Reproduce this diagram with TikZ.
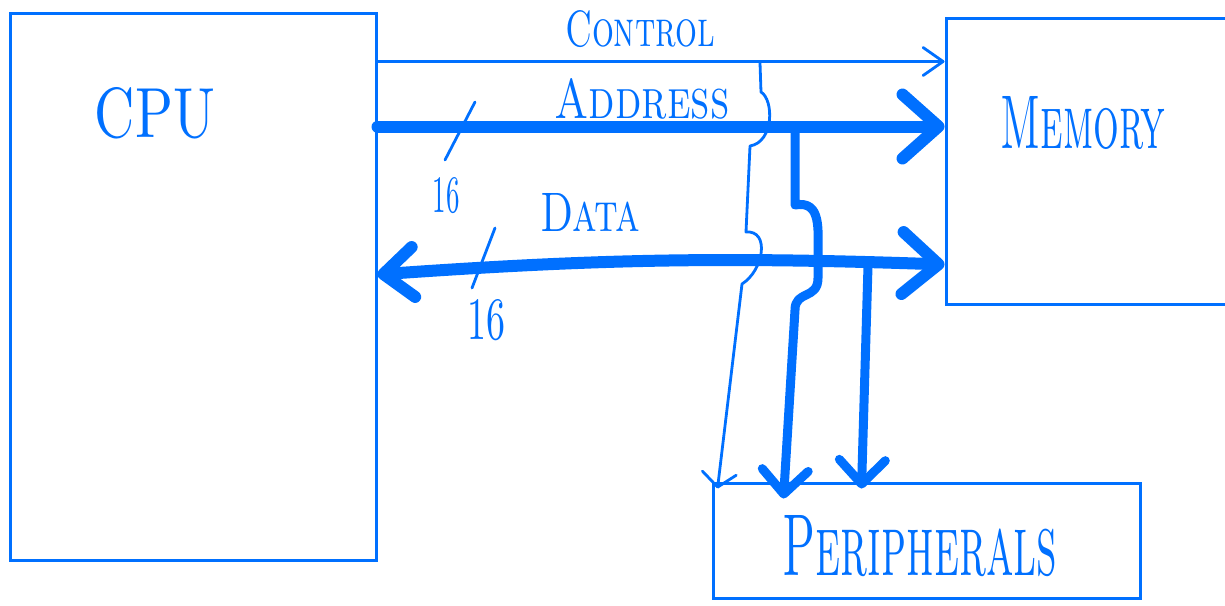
\documentclass[tikz,border=0pt]{standalone}
\usepackage{graphicx}
\usetikzlibrary{arrows.meta}
\definecolor{pen}{RGB}{0,112,255}
\tikzset{
  box/.style={draw=pen, line width=3pt, inner sep=0pt, rectangle},
  thinbus/.style={draw=pen, line width=2.8pt, line cap=round, line join=round},
  thickbus/.style={draw=pen, line width=12pt, line cap=round, line join=round},
  midbus/.style={draw=pen, line width=9pt, line cap=round, line join=round},
  lbl/.style={text=pen, inner sep=0pt},
  tick/.style={draw=pen, line width=2.8pt, line cap=round},
}
\newcommand{\fitw}[3]{\resizebox{#1pt}{#2pt}{\textsc{#3}}}
\begin{document}
\begin{tikzpicture}[x=1pt,y=-1pt]
\clip (0,0) rectangle (1225,605);
\fill[white] (0,0) rectangle (1225,605);
% boxes
\node[box, minimum width=366pt, minimum height=547pt] (cpu) at (193,286.5) {};
\node[box, minimum width=294pt, minimum height=286pt] (mem) at (1093,161) {};
\node[box, minimum width=427pt, minimum height=115pt] (per) at (926.5,540.5) {};
% texts
\node[lbl] (tcpu) at (155,113) {\resizebox{120pt}{50pt}{CPU}};
\node[lbl] (tmem) at (1083,123) {\fitw{165}{52}{Memory}};
\node[lbl] (tctl) at (640,29) {\fitw{150}{36}{Control}};
\node[lbl] (tadr) at (642,99) {\fitw{175}{40}{Address}};
\node[lbl] (tdat) at (590,212) {\fitw{100}{38}{Data}};
\node[lbl] (tper) at (920,546) {\fitw{275}{60}{Peripherals}};
\node[lbl] (n1) at (446,196) {\resizebox{27pt}{35pt}{16}};
\node[lbl] (n2) at (486,320) {\resizebox{38pt}{40pt}{16}};
% main buses
\draw[thinbus, -{Straight Barb[length=20pt,width=28pt,round]}]
  ([yshift=-50pt]cpu.north east) -- ([yshift=-45pt]mem.north west);
\draw[thickbus, -{Straight Barb[length=36pt,width=64pt,round]}]
  ([yshift=-115pt]cpu.north east) -- ([yshift=-110pt]mem.north west);
\draw[thickbus, {Straight Barb[length=30pt,width=50pt,round]}-{Straight Barb[length=36pt,width=62pt,round]}]
  ([yshift=-263pt]cpu.north east) to[bend left=3] ([yshift=-248pt]mem.north west);
% junctions
\coordinate (ctlj) at (760,63);
\coordinate (adrj) at (795,128);
\coordinate (datj) at (868,266);
% branches to peripherals
\draw[thinbus, -{Straight Barb[length=14pt,width=34pt,round]}]
  (ctlj) -- (761,92) .. controls (774,100) and (774,142) .. (750,146)
  -- (746,232) .. controls (770,230) and (764,270) .. (742,284)
  -- ([xshift=6pt,yshift=-7pt]per.north west);
\draw[midbus, -{Straight Barb[length=24pt,width=46pt,round]}]
  (adrj) -- (795,205) .. controls (822,200) and (818,230) .. (818,258)
  -- (818,278) .. controls (818,300) and (795,290) .. (795,310)
  -- ([xshift=72pt,yshift=-17pt]per.north west);
\draw[midbus, -{Straight Barb[length=24pt,width=46pt,round]}]
  (datj) -- ([xshift=150pt,yshift=-7pt]per.north west);
% width ticks
\draw[tick] (475,102) -- (445,160);
\draw[tick] (495,228) -- (472,288);
\end{tikzpicture}
\end{document}
